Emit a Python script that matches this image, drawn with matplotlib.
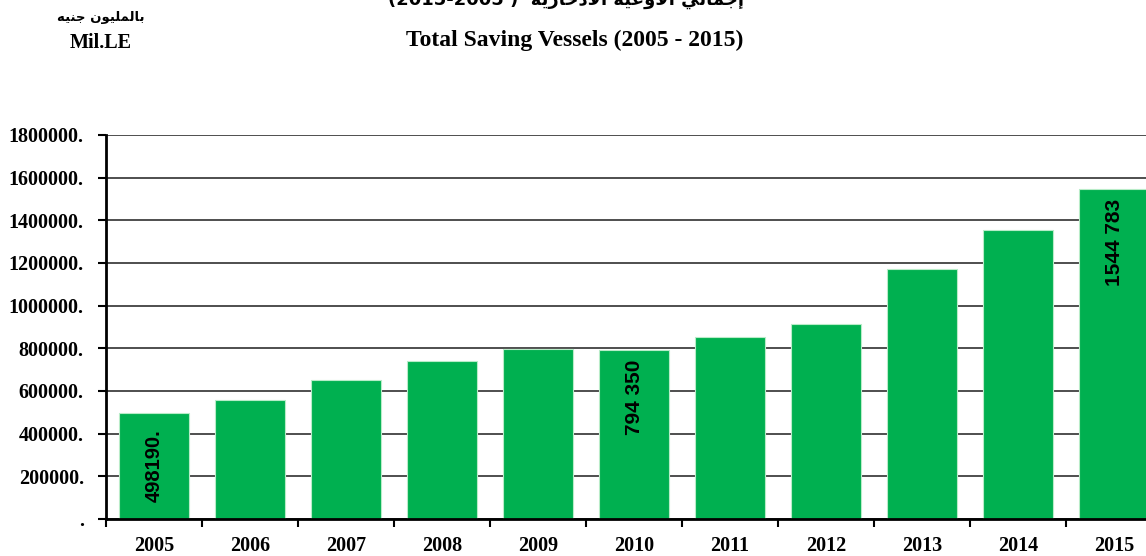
import numpy as np
import matplotlib.pyplot as plt

# ======================================================
# Data (Mil. LE)
# ======================================================
years = ["2005", "2006", "2007", "2008", "2009", "2010",
         "2011", "2012", "2013", "2014", "2015"]
values = [498190, 556000, 651000, 740000, 798000, 794350,
          853000, 912000, 1173000, 1356000, 1544783]
y_ticks = list(range(0, 1800001, 200000))

# labels shown on bars: index -> (text, placement)
bar_labels = {0: ("498190.", "center"), 5: ("794 350", "top"), 10: ("1544 783", "top")}

# Arabic titles written in shaped (presentation) forms, visual order
ar_unit = "\ufeea\ufef4\ufee8\ufe9f \ufee5\ufeee\ufef4\ufee0\ufee4\ufedf\ufe8e\ufe91"
ar_title = ("(2015-2005 )  \ufe94\ufef3\ufead\ufe8e\ufea7\ufea9\ufefb\ufe8d "
            "\ufe94\ufef4\ufecb\ufeed\ufef7\ufe8d \ufef2\ufedf\ufe8e\ufee4\ufe9f\ufe87")

green = "#00B050"
serif = "Liberation Serif"

# ======================================================
# Figure
# ======================================================
fig = plt.figure(figsize=(11.46, 5.56), dpi=100)
ax = fig.add_axes([106 / 1146, 37 / 556, 1056 / 1146, 384 / 556])

x = np.arange(len(years))
ax.bar(x, values, width=0.73, color=green, edgecolor="#b8ecc8", linewidth=0.8, zorder=3)

for i, (txt, pos) in bar_labels.items():
    if pos == "center":
        ax.text(i, values[i] / 2, txt, rotation=90, ha="center", va="center",
                fontsize=14.5, fontweight="bold", family="Liberation Sans", zorder=4)
    else:
        ax.annotate(txt, xy=(i, values[i]), xytext=(0, -7), textcoords="offset points",
                    rotation=90, ha="center", va="top", fontsize=15,
                    fontweight="bold", family="Liberation Sans", zorder=4)

ax.set_xlim(-0.5, len(years) - 0.5)
ax.set_ylim(0, 1800000)

# category boundaries get the tick marks, centers get the labels
ax.set_xticks(np.arange(-0.5, len(years), 1.0))
ax.set_xticklabels([])
ax.set_xticks(x, minor=True)
ax.set_xticklabels(years, minor=True, fontsize=14.5, fontweight="bold", family=serif)
ax.tick_params(axis="x", which="major", direction="out", length=6, width=1.5)
ax.tick_params(axis="x", which="minor", length=0, pad=12)

ax.set_yticks(y_ticks)
ax.set_yticklabels([f"{v}." if v else "." for v in y_ticks],
                   fontsize=14.5, fontweight="bold", family=serif)
ax.tick_params(axis="y", direction="out", length=6, width=1.5, pad=10)

ax.grid(axis="y", color="#404040", linewidth=1.3, zorder=0)
ax.set_axisbelow(True)
for s in ["top", "right"]:
    ax.spines[s].set_visible(False)
for s in ["left", "bottom"]:
    ax.spines[s].set_linewidth(2)
    ax.spines[s].set_zorder(5)

# Titles
fig.text(566 / 1146, 1 - 6 / 556, ar_title, ha="center", va="baseline",
         fontsize=13, fontweight="bold", family="DejaVu Sans")
fig.text(575 / 1146, 1 - 40 / 556, "Total Saving Vessels (2005 - 2015)", ha="center",
         va="center", fontsize=17, fontweight="bold", family=serif)
fig.text(101 / 1146, 1 - 18 / 556, ar_unit, ha="center", va="center",
         fontsize=9.5, fontweight="bold", family="DejaVu Sans")
fig.text(101 / 1146, 1 - 43 / 556, "Mil.LE", ha="center", va="center",
         fontsize=14.5, fontweight="bold", family=serif)

fig.savefig("out.png", dpi=100)
